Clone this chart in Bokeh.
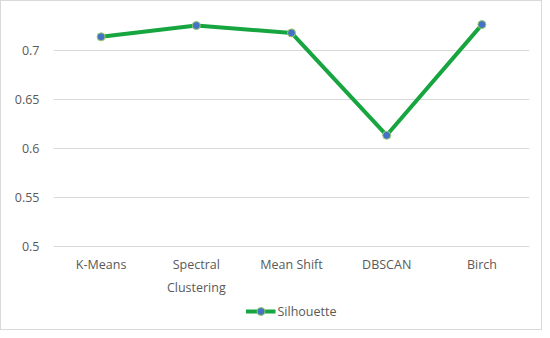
from bokeh.plotting import figure
from bokeh.models import FixedTicker, NumeralTickFormatter, Legend, LegendItem, Range1d
from bokeh.core.properties import value
from bokeh.embed import file_html
from bokeh.resources import INLINE

methods = ["K-Means", "Spectral Clustering", "Mean Shift", "DBSCAN", "Birch"]
method_labels = ["K-Means", "Spectral\nClustering", "Mean Shift", "DBSCAN", "Birch"]
silhouette = [0.714, 0.7255, 0.718, 0.6135, 0.7265]
y_ticks = [0.5, 0.55, 0.6, 0.65, 0.7]
y_min = 0.5

FONT = "Open Sans"
GRAY = "#595959"

p = figure(x_range=methods, y_range=Range1d(0.4133, 0.7378), width=542, height=330,
           output_backend="svg", toolbar_location=None, min_border_left=52,
           min_border_right=14, min_border_top=12, min_border_bottom=0)
p.outline_line_color = None
p.styles = {"border": "1px solid #d9d9d9", "box-sizing": "border-box"}

line = p.line(methods, silhouette, line_color="#17A540", line_width=4)
pts = p.scatter(methods, silhouette, size=8, fill_color="#4472C4",
                line_color="#9ACD6A", line_width=1)

# category labels under the 0.5 baseline
p.text(x=methods, y=[y_min] * len(methods), text=method_labels,
       text_font=value(FONT), text_font_size="12.5px", text_color=GRAY,
       text_align="center", text_baseline="top", y_offset=9,
       text_line_height=1.4)

p.xaxis.visible = False
p.yaxis.ticker = FixedTicker(ticks=y_ticks)
p.yaxis.formatter = NumeralTickFormatter(format="0.[00]")
ax = p.yaxis[0]
ax.axis_line_color = None
ax.major_tick_line_color = None
ax.minor_tick_line_color = None
ax.major_label_text_font = FONT
ax.major_label_text_font_size = "12.5px"
ax.major_label_text_color = GRAY
ax.major_label_standoff = 8

p.xgrid.grid_line_color = None
p.ygrid.grid_line_color = "#d9d9d9"
p.ygrid.ticker = FixedTicker(ticks=y_ticks)

legend = Legend(items=[LegendItem(label="Silhouette", renderers=[line, pts])],
                location="bottom_center", orientation="horizontal",
                label_text_font=FONT, label_text_font_size="12.5px",
                label_text_color=GRAY, border_line_color=None,
                background_fill_alpha=0,
                glyph_width=30, label_standoff=2, padding=4, margin=10)
p.add_layout(legend, "center")

open("out.html", "w").write(file_html(p, INLINE))
